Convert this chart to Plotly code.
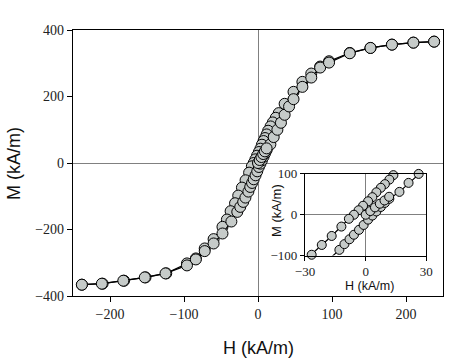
import plotly.graph_objects as go

# Descending branch (from +saturation to -saturation), H and M in kA/m
desc_H = [238, 210, 181, 152, 124, 96, 84, 72, 60, 48, 36, 28, 24, 20, 17,
          13.7, 11.7, 9.5, 7.5, 5.3, 3.3, 1.2, -1.3, -3.5, -5.8, -8.3, -12, -16.8, -21.7, -26.7,
          -31, -37, -42, -48, -60, -72, -84, -96, -124, -152, -181, -210, -238]
desc_M = [365, 362, 356, 346, 331, 306, 290, 269, 244, 214, 178, 150, 136, 122, 110,
          97, 86, 75, 66, 55, 43, 33, 22, 11, 0, -10, -29, -52, -74, -98,
          -121, -145, -170, -192, -229, -257, -287, -302, -332, -344, -354, -363, -366]

# Ascending branch (from -saturation to +saturation)
asc_H = [-238, -211, -182, -153, -125, -96, -84, -72, -60, -48, -36, -28, -24, -20, -17,
         -13, -10.5, -8, -5.8, -3.3, -1, 1.2, 3.3, 5.3, 7.5, 9.5, 11.7, 16.7, 21.2, 26.2,
         31, 36, 42, 48, 60, 72, 84, 96, 124, 152, 181, 210, 238]
asc_M = [-366, -363, -354, -344, -332, -308, -290, -265, -242, -212, -176, -147, -132, -117, -104,
         -86, -72, -60, -49, -37, -25, -12, -2, 8, 19, 29, 39, 56, 78, 100,
         121, 145, 170, 192, 229, 257, 287, 302, 330, 346, 356, 362, 365]

# Initial magnetization points near origin
virgin_H = [0, 2.3, 4.6, 7.0, 9.3, 11.6]
virgin_M = [0, 9, 18, 27, 35, 44]

main_x_ticks = [-200, -100, 0, 100, 200]
main_y_ticks = [-400, -200, 0, 200, 400]
inset_x_ticks = [-30, 0, 30]
inset_y_ticks = [-100, 0, 100]

FILL = "#c6cbc9"
SERIF = "Liberation Serif"
SANS = "Liberation Sans"

series = [(desc_H, desc_M), (asc_H, asc_M), (virgin_H, virgin_M)]

fig = go.Figure()

# Main plot
for hx, my in series:
    fig.add_trace(go.Scatter(
        x=hx, y=my, mode="lines+markers", xaxis="x", yaxis="y",
        line=dict(color="black", width=1.2),
        marker=dict(size=11, color=FILL, line=dict(color="black", width=1)),
        showlegend=False, hoverinfo="skip"))

# Inset: lines clipped to axes, markers only for in-range points
for hx, my in series:
    fig.add_trace(go.Scatter(
        x=hx, y=my, mode="lines", xaxis="x2", yaxis="y2",
        line=dict(color="black", width=1.2), showlegend=False, hoverinfo="skip"))
for hx, my in series:
    px_ = [h for h, m in zip(hx, my) if -30 <= h <= 30 and -100 <= m <= 100]
    py_ = [m for h, m in zip(hx, my) if -30 <= h <= 30 and -100 <= m <= 100]
    fig.add_trace(go.Scatter(
        x=px_, y=py_, mode="markers", xaxis="x2", yaxis="y2", cliponaxis=False,
        marker=dict(size=9, color=FILL, line=dict(color="black", width=1)),
        showlegend=False, hoverinfo="skip"))

axis_common = dict(showline=True, linecolor="black", linewidth=1.3, mirror=True,
                   ticks="outside", ticklen=5, tickcolor="black", tickwidth=1,
                   showgrid=False, zeroline=True, zerolinecolor="#808080", zerolinewidth=1,
                   automargin=False)

fig.update_layout(
    width=474, height=361,
    margin=dict(l=73, r=31, t=30, b=65),
    paper_bgcolor="white", plot_bgcolor="white",
    xaxis=dict(range=[-250, 250], tickvals=main_x_ticks, domain=[0, 1], anchor="y",
               tickfont=dict(family=SERIF, size=14, color="#222"), **axis_common),
    yaxis=dict(range=[-400, 400], tickvals=main_y_ticks, domain=[0, 1], anchor="x",
               tickfont=dict(family=SERIF, size=14, color="#222"), **axis_common),
    xaxis2=dict(range=[-30, 30], tickvals=inset_x_ticks, domain=[0.627, 0.955], anchor="y2",
                tickfont=dict(family=SERIF, size=13, color="#222"),
                **{**axis_common, "ticklen": 4}),
    yaxis2=dict(range=[-100, 100], tickvals=inset_y_ticks, domain=[0.152, 0.459], anchor="x2",
                tickfont=dict(family=SERIF, size=13, color="#222"),
                **{**axis_common, "ticklen": 4}),
    annotations=[
        dict(text="H (kA/m)", x=0.5, y=-0.1955, xref="paper", yref="paper",
             xanchor="center", yanchor="middle", showarrow=False,
             font=dict(family=SANS, size=18, color="#111")),
        dict(text="M (kA/m)", x=-0.1595, y=0.5, xref="paper", yref="paper", textangle=-90,
             xanchor="center", yanchor="middle", showarrow=False,
             font=dict(family=SANS, size=18, color="#111")),
        dict(text="H (kA/m)", x=0.8027, y=0.0375, xref="paper", yref="paper",
             xanchor="center", yanchor="middle", showarrow=False,
             font=dict(family=SANS, size=12.5, color="#111")),
        dict(text="M (kA/m)", x=0.5486, y=0.3233, xref="paper", yref="paper", textangle=-90,
             xanchor="center", yanchor="middle", showarrow=False,
             font=dict(family=SANS, size=13, color="#111")),
    ],
)

fig.write_html("out.html", config={"displayModeBar": False},
               post_script="document.body.style.margin='0';document.body.style.padding='0';")
